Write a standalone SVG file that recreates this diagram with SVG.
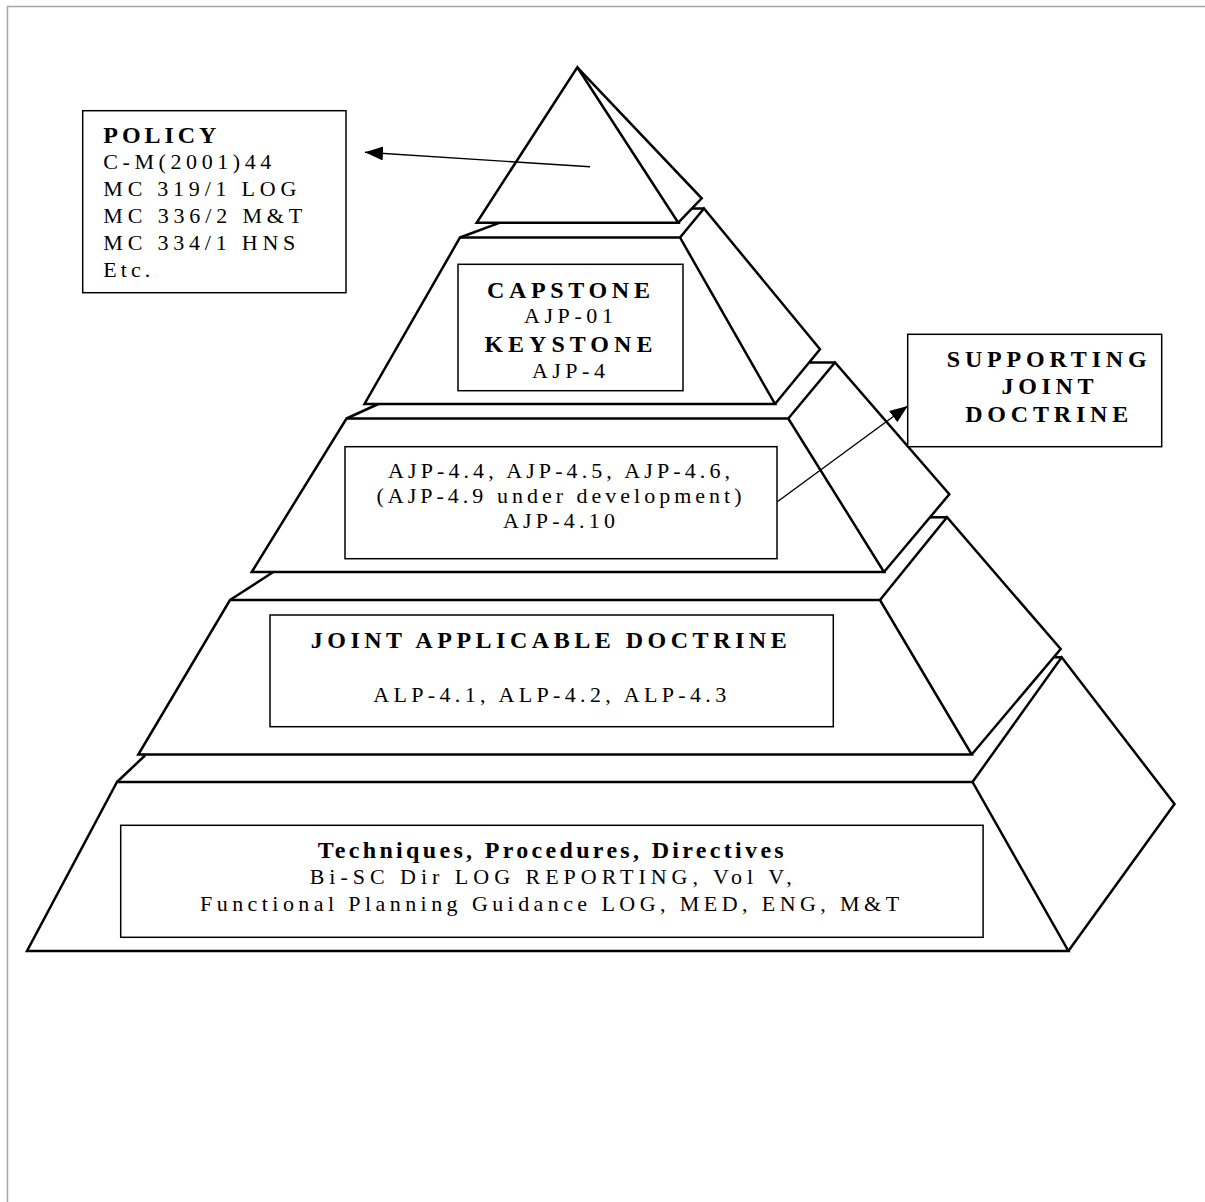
<svg xmlns="http://www.w3.org/2000/svg" width="1205" height="1202" viewBox="0 0 1205 1202">
<defs>
<style>
.face{fill:#fff;stroke:#000;stroke-width:2.5;stroke-linejoin:miter}
.edge{fill:none;stroke:#000;stroke-width:2.5;stroke-linejoin:miter}
.box{fill:#fff;stroke:#000;stroke-width:1.5}
.conn{fill:none;stroke:#000;stroke-width:1.4}
text{font-family:"Liberation Serif","Times New Roman",serif;font-size:22px;fill:#000}
.b{font-weight:bold;font-size:24px}
.m{text-anchor:middle}
</style>
<marker id="arrow" markerUnits="userSpaceOnUse" markerWidth="20" markerHeight="16" refX="18" refY="7" orient="auto">
<path d="M0,0 L18,7 L0,14 z" fill="#000"/>
</marker>
</defs>
<rect width="1205" height="1202" fill="#fff"/>
<path d="M7.5,1202 V6.5 H1205" fill="none" stroke="#a6a6a6" stroke-width="1.5"/>

<g id="tier5">
<polygon class="face" points="117,782 972.5,782 1068.4,951 27,951"/>
<polyline class="edge" points="972.5,782 1061.7,657.3 1174.5,804 1068.4,951"/>
<line class="edge" x1="1053.7" y1="657.3" x2="1061.7" y2="657.3"/>
<line class="edge" x1="117" y1="782" x2="145" y2="755.5"/>
<rect class="box" x="120.7" y="825.3" width="862.4" height="112"/>
<text class="b m" x="550.7" y="857.7" textLength="466" lengthAdjust="spacing">Techniques, Procedures, Directives</text>
<text class="m" x="550.7" y="884" textLength="482" lengthAdjust="spacing">Bi-SC Dir LOG REPORTING, Vol V,</text>
<text class="m" x="549.6" y="911" textLength="699" lengthAdjust="spacing">Functional Planning Guidance LOG, MED, ENG, M&amp;T</text>
</g>

<g id="tier4">
<polygon class="face" points="230,600 880,600 971.7,754.5 138.3,754.5"/>
<polyline class="edge" points="880,600 947,517.3 1060.7,649 971.7,754.5"/>
<line class="edge" x1="930" y1="517.3" x2="947" y2="517.3"/>
<line class="edge" x1="230" y1="600" x2="273.3" y2="572"/>
<rect class="box" x="270" y="615" width="563.3" height="111.7"/>
<text class="b m" x="548.7" y="648.3" textLength="476" lengthAdjust="spacing">JOINT APPLICABLE DOCTRINE</text>
<text class="m" x="549.7" y="702.3" textLength="353" lengthAdjust="spacing">ALP-4.1, ALP-4.2, ALP-4.3</text>
</g>

<g id="tier3">
<polygon class="face" points="346.5,418.5 788.3,418.5 884,572 251.7,572"/>
<polyline class="edge" points="788.3,418.5 835,362.5 949.3,494.3 884,572"/>
<line class="edge" x1="809" y1="362.5" x2="835" y2="362.5"/>
<line class="edge" x1="346.5" y1="418.5" x2="378.3" y2="404"/>
<rect class="box" x="345" y="446.7" width="432" height="112"/>
<text class="m" x="559" y="478" textLength="342" lengthAdjust="spacing">AJP-4.4, AJP-4.5, AJP-4.6,</text>
<text class="m" x="559" y="503" textLength="365" lengthAdjust="spacing">(AJP-4.9 under development)</text>
<text class="m" x="559" y="528" textLength="112" lengthAdjust="spacing">AJP-4.10</text>
</g>

<g id="tier2">
<polygon class="face" points="460,237.5 680,237.5 775,404 364.5,404"/>
<polyline class="edge" points="680,237.5 704,208.5 820,349.3 775,404"/>
<line class="edge" x1="692" y1="208.5" x2="704" y2="208.5"/>
<line class="edge" x1="460" y1="237.5" x2="500" y2="222.7"/>
<rect class="box" x="458" y="264.3" width="225" height="126.4"/>
<text class="b m" x="568.4" y="297.5" textLength="163" lengthAdjust="spacing">CAPSTONE</text>
<text class="m" x="568.4" y="323.3" textLength="89" lengthAdjust="spacing">AJP-01</text>
<text class="b m" x="568.4" y="351.5" textLength="168" lengthAdjust="spacing">KEYSTONE</text>
<text class="m" x="568.4" y="378.3" textLength="73" lengthAdjust="spacing">AJP-4</text>
</g>

<g id="tier1">
<polygon class="face" points="577.3,67.3 678.3,222.7 476.7,222.7"/>
<polyline class="edge" points="577.3,67.3 701.7,198.3 678.3,222.7"/>
</g>

<g id="policy">
<rect class="box" x="82.7" y="110.7" width="263.3" height="182"/>
<text class="b" x="103.3" y="143.3" textLength="113" lengthAdjust="spacing">POLICY</text>
<text x="103.3" y="169.3" textLength="168" lengthAdjust="spacing">C-M(2001)44</text>
<text x="103.3" y="196" textLength="193" lengthAdjust="spacing">MC 319/1 LOG</text>
<text x="103.3" y="222.7" textLength="199" lengthAdjust="spacing">MC 336/2 M&amp;T</text>
<text x="103.3" y="250" textLength="192" lengthAdjust="spacing">MC 334/1 HNS</text>
<text x="103.3" y="276.7" textLength="47" lengthAdjust="spacing">Etc.</text>
</g>

<g id="supporting">
<rect class="box" x="907.7" y="334.3" width="254" height="112.4"/>
<text class="b m" x="1046.7" y="366.7" textLength="200" lengthAdjust="spacing">SUPPORTING</text>
<text class="b m" x="1047.5" y="394.3" textLength="92" lengthAdjust="spacing">JOINT</text>
<text class="b m" x="1046.7" y="422.3" textLength="163" lengthAdjust="spacing">DOCTRINE</text>
</g>

<g id="connectors">
<line class="conn" x1="590" y1="166.7" x2="365" y2="152.3" marker-end="url(#arrow)"/>
<line class="conn" x1="777.3" y1="501.7" x2="907.7" y2="406" marker-end="url(#arrow)"/>
</g>
</svg>
